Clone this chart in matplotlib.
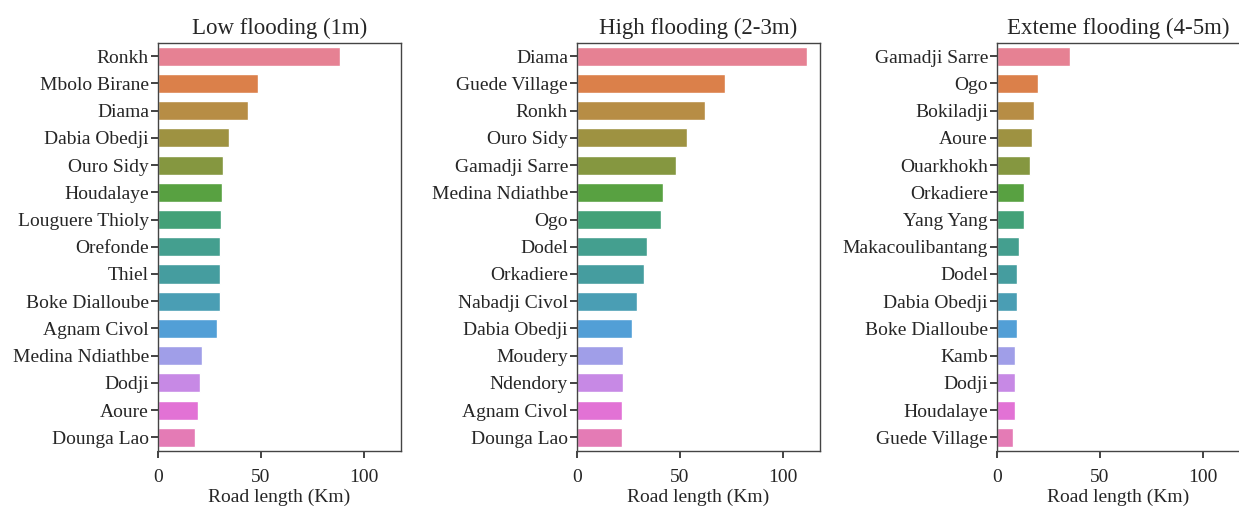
import matplotlib
matplotlib.use("Agg")
import matplotlib.pyplot as plt
import seaborn as sns
import pandas as pd

low_places = ['Ronkh', 'Mbolo Birane', 'Diama', 'Dabia Obedji', 'Ouro Sidy',
              'Houdalaye', 'Louguere Thioly', 'Orefonde', 'Thiel', 'Boke Dialloube',
              'Agnam Civol', 'Medina Ndiathbe', 'Dodji', 'Aoure', 'Dounga Lao']
low_km = [88.6, 48.8, 43.9, 34.5, 31.7, 31.1, 30.6, 29.9, 29.9, 29.9,
          28.5, 21.5, 20.5, 19.5, 18.0]

high_places = ['Diama', 'Guede Village', 'Ronkh', 'Ouro Sidy', 'Gamadji Sarre',
               'Medina Ndiathbe', 'Ogo', 'Dodel', 'Orkadiere', 'Nabadji Civol',
               'Dabia Obedji', 'Moudery', 'Ndendory', 'Agnam Civol', 'Dounga Lao']
high_km = [111.7, 72.0, 62.0, 53.3, 48.0, 41.6, 41.0, 34.1, 32.7, 29.1,
           26.8, 22.4, 22.4, 22.0, 22.0]

extreme_places = ['Gamadji Sarre', 'Ogo', 'Bokiladji', 'Aoure', 'Ouarkhokh',
                  'Orkadiere', 'Yang Yang', 'Makacoulibantang', 'Dodel', 'Dabia Obedji',
                  'Boke Dialloube', 'Kamb', 'Dodji', 'Houdalaye', 'Guede Village']
extreme_km = [35.6, 19.8, 17.9, 17.2, 16.1, 13.2, 13.2, 10.9, 9.8, 9.8,
              9.8, 8.8, 8.8, 8.8, 8.0]

titles = ['Low flooding (1m)', 'High flooding (2-3m)', 'Exteme flooding (4-5m)']

sns.set_style("ticks")
plt.rcParams['font.family'] = ['Liberation Serif', 'DejaVu Serif']

fig = plt.figure(figsize=(12.39, 5.07), dpi=100)
W, H = 1239, 507
lefts = [158, 577, 997]
top, bottom, width = 42.5, 451, 243

panels = [(low_places, low_km), (high_places, high_km), (extreme_places, extreme_km)]
for left, (places, km), title in zip(lefts, panels, titles):
    ax = fig.add_axes([left / W, (H - bottom) / H, width / W, (bottom - top) / H])
    df = pd.DataFrame({'place': places, 'km': km})
    sns.barplot(data=df, x='km', y='place', hue='place', palette='husl',
                legend=False, width=0.7, ax=ax)
    ax.set_xlim(0, 118)
    ax.set_xticks([0, 50, 100])
    ax.set_title(title, fontsize=16.5, pad=6)
    ax.set_xlabel('Road length (Km)', fontsize=14, labelpad=2)
    ax.set_ylabel('')
    ax.tick_params(axis='both', labelsize=14, length=5, width=1.2, color='#222222')
    ax.tick_params(axis='y', pad=1.5)
    ax.tick_params(axis='x', pad=8)
    for s in ax.spines.values():
        s.set_visible(True)
        s.set_color('#444444')
        s.set_linewidth(1.0)

fig.savefig('out.png', dpi=100)
